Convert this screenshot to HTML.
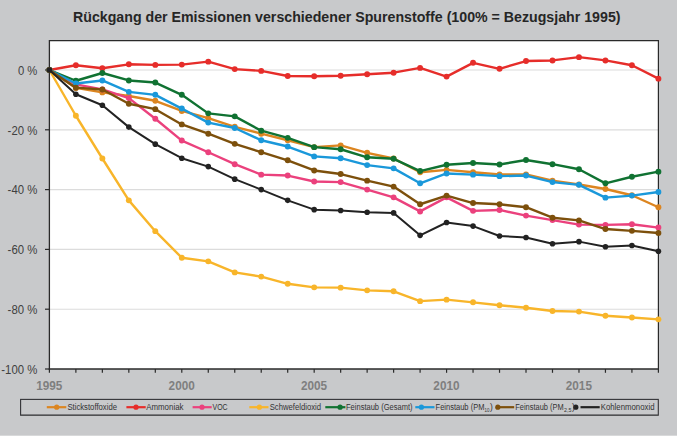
<!DOCTYPE html>
<html><head><meta charset="utf-8"><style>
html,body{margin:0;padding:0;background:#fff;width:685px;height:445px;overflow:hidden}
svg{display:block;font-family:"Liberation Sans",sans-serif}
</style></head><body>
<svg width="685" height="445" viewBox="0 0 685 445">
<rect x="0" y="0" width="677" height="435.7" fill="#C8C9CB"/>
<rect x="49.4" y="40.6" width="609.0" height="328.4" fill="#fff"/>
<line x1="49.4" y1="70.00" x2="658.4" y2="70.00" stroke="#DCDCDC" stroke-width="1.15"/>
<line x1="49.4" y1="129.80" x2="658.4" y2="129.80" stroke="#DCDCDC" stroke-width="1.15"/>
<line x1="49.4" y1="189.60" x2="658.4" y2="189.60" stroke="#DCDCDC" stroke-width="1.15"/>
<line x1="49.4" y1="249.40" x2="658.4" y2="249.40" stroke="#DCDCDC" stroke-width="1.15"/>
<line x1="49.4" y1="309.20" x2="658.4" y2="309.20" stroke="#DCDCDC" stroke-width="1.15"/>
<polyline points="49.4,40.6 658.4,40.6 658.4,369" fill="none" stroke="#2a2a2a" stroke-width="1.2"/>
<line x1="45" y1="70.00" x2="49.4" y2="70.00" stroke="#2a2a2a" stroke-width="1.2"/>
<line x1="45" y1="129.80" x2="49.4" y2="129.80" stroke="#2a2a2a" stroke-width="1.2"/>
<line x1="45" y1="189.60" x2="49.4" y2="189.60" stroke="#2a2a2a" stroke-width="1.2"/>
<line x1="45" y1="249.40" x2="49.4" y2="249.40" stroke="#2a2a2a" stroke-width="1.2"/>
<line x1="45" y1="309.20" x2="49.4" y2="309.20" stroke="#2a2a2a" stroke-width="1.2"/>
<line x1="45" y1="369.00" x2="49.4" y2="369.00" stroke="#2a2a2a" stroke-width="1.2"/>
<line x1="49.40" y1="369" x2="49.40" y2="372.8" stroke="#2a2a2a" stroke-width="1.2"/>
<line x1="75.88" y1="369" x2="75.88" y2="372.8" stroke="#2a2a2a" stroke-width="1.2"/>
<line x1="102.36" y1="369" x2="102.36" y2="372.8" stroke="#2a2a2a" stroke-width="1.2"/>
<line x1="128.83" y1="369" x2="128.83" y2="372.8" stroke="#2a2a2a" stroke-width="1.2"/>
<line x1="155.31" y1="369" x2="155.31" y2="372.8" stroke="#2a2a2a" stroke-width="1.2"/>
<line x1="181.79" y1="369" x2="181.79" y2="372.8" stroke="#2a2a2a" stroke-width="1.2"/>
<line x1="208.27" y1="369" x2="208.27" y2="372.8" stroke="#2a2a2a" stroke-width="1.2"/>
<line x1="234.75" y1="369" x2="234.75" y2="372.8" stroke="#2a2a2a" stroke-width="1.2"/>
<line x1="261.23" y1="369" x2="261.23" y2="372.8" stroke="#2a2a2a" stroke-width="1.2"/>
<line x1="287.70" y1="369" x2="287.70" y2="372.8" stroke="#2a2a2a" stroke-width="1.2"/>
<line x1="314.18" y1="369" x2="314.18" y2="372.8" stroke="#2a2a2a" stroke-width="1.2"/>
<line x1="340.66" y1="369" x2="340.66" y2="372.8" stroke="#2a2a2a" stroke-width="1.2"/>
<line x1="367.14" y1="369" x2="367.14" y2="372.8" stroke="#2a2a2a" stroke-width="1.2"/>
<line x1="393.62" y1="369" x2="393.62" y2="372.8" stroke="#2a2a2a" stroke-width="1.2"/>
<line x1="420.10" y1="369" x2="420.10" y2="372.8" stroke="#2a2a2a" stroke-width="1.2"/>
<line x1="446.57" y1="369" x2="446.57" y2="372.8" stroke="#2a2a2a" stroke-width="1.2"/>
<line x1="473.05" y1="369" x2="473.05" y2="372.8" stroke="#2a2a2a" stroke-width="1.2"/>
<line x1="499.53" y1="369" x2="499.53" y2="372.8" stroke="#2a2a2a" stroke-width="1.2"/>
<line x1="526.01" y1="369" x2="526.01" y2="372.8" stroke="#2a2a2a" stroke-width="1.2"/>
<line x1="552.49" y1="369" x2="552.49" y2="372.8" stroke="#2a2a2a" stroke-width="1.2"/>
<line x1="578.97" y1="369" x2="578.97" y2="372.8" stroke="#2a2a2a" stroke-width="1.2"/>
<line x1="605.44" y1="369" x2="605.44" y2="372.8" stroke="#2a2a2a" stroke-width="1.2"/>
<line x1="631.92" y1="369" x2="631.92" y2="372.8" stroke="#2a2a2a" stroke-width="1.2"/>
<line x1="658.40" y1="369" x2="658.40" y2="372.8" stroke="#2a2a2a" stroke-width="1.2"/>
<line x1="49.4" y1="40" x2="49.4" y2="369.8" stroke="#2a2a2a" stroke-width="1.3"/>
<line x1="48.8" y1="369" x2="658.9" y2="369" stroke="#2a2a2a" stroke-width="1.6"/>
<polyline points="49.40,70.00 75.88,87.94 102.36,92.42 128.83,96.01 155.31,100.80 181.79,110.96 208.27,118.14 234.75,126.81 261.23,133.69 287.70,140.26 314.18,147.14 340.66,145.35 367.14,152.82 393.62,158.50 420.10,172.26 446.57,169.87 473.05,172.26 499.53,174.35 526.01,174.35 552.49,180.63 578.97,184.52 605.44,189.00 631.92,195.28 658.40,207.24" fill="none" stroke="#DC8520" stroke-width="2.4" stroke-linejoin="round"/>
<circle cx="49.40" cy="70.00" r="2.95" fill="#DC8520"/>
<circle cx="75.88" cy="87.94" r="2.95" fill="#DC8520"/>
<circle cx="102.36" cy="92.42" r="2.95" fill="#DC8520"/>
<circle cx="128.83" cy="96.01" r="2.95" fill="#DC8520"/>
<circle cx="155.31" cy="100.80" r="2.95" fill="#DC8520"/>
<circle cx="181.79" cy="110.96" r="2.95" fill="#DC8520"/>
<circle cx="208.27" cy="118.14" r="2.95" fill="#DC8520"/>
<circle cx="234.75" cy="126.81" r="2.95" fill="#DC8520"/>
<circle cx="261.23" cy="133.69" r="2.95" fill="#DC8520"/>
<circle cx="287.70" cy="140.26" r="2.95" fill="#DC8520"/>
<circle cx="314.18" cy="147.14" r="2.95" fill="#DC8520"/>
<circle cx="340.66" cy="145.35" r="2.95" fill="#DC8520"/>
<circle cx="367.14" cy="152.82" r="2.95" fill="#DC8520"/>
<circle cx="393.62" cy="158.50" r="2.95" fill="#DC8520"/>
<circle cx="420.10" cy="172.26" r="2.95" fill="#DC8520"/>
<circle cx="446.57" cy="169.87" r="2.95" fill="#DC8520"/>
<circle cx="473.05" cy="172.26" r="2.95" fill="#DC8520"/>
<circle cx="499.53" cy="174.35" r="2.95" fill="#DC8520"/>
<circle cx="526.01" cy="174.35" r="2.95" fill="#DC8520"/>
<circle cx="552.49" cy="180.63" r="2.95" fill="#DC8520"/>
<circle cx="578.97" cy="184.52" r="2.95" fill="#DC8520"/>
<circle cx="605.44" cy="189.00" r="2.95" fill="#DC8520"/>
<circle cx="631.92" cy="195.28" r="2.95" fill="#DC8520"/>
<circle cx="658.40" cy="207.24" r="2.95" fill="#DC8520"/>
<polyline points="49.40,70.00 75.88,65.22 102.36,68.21 128.83,64.32 155.31,64.92 181.79,64.62 208.27,61.63 234.75,69.10 261.23,70.90 287.70,75.98 314.18,76.28 340.66,75.68 367.14,74.19 393.62,72.69 420.10,67.91 446.57,76.58 473.05,62.82 499.53,68.80 526.01,61.03 552.49,60.43 578.97,57.14 605.44,60.43 631.92,65.22 658.40,78.67" fill="none" stroke="#E62D2A" stroke-width="2.4" stroke-linejoin="round"/>
<circle cx="49.40" cy="70.00" r="2.95" fill="#E62D2A"/>
<circle cx="75.88" cy="65.22" r="2.95" fill="#E62D2A"/>
<circle cx="102.36" cy="68.21" r="2.95" fill="#E62D2A"/>
<circle cx="128.83" cy="64.32" r="2.95" fill="#E62D2A"/>
<circle cx="155.31" cy="64.92" r="2.95" fill="#E62D2A"/>
<circle cx="181.79" cy="64.62" r="2.95" fill="#E62D2A"/>
<circle cx="208.27" cy="61.63" r="2.95" fill="#E62D2A"/>
<circle cx="234.75" cy="69.10" r="2.95" fill="#E62D2A"/>
<circle cx="261.23" cy="70.90" r="2.95" fill="#E62D2A"/>
<circle cx="287.70" cy="75.98" r="2.95" fill="#E62D2A"/>
<circle cx="314.18" cy="76.28" r="2.95" fill="#E62D2A"/>
<circle cx="340.66" cy="75.68" r="2.95" fill="#E62D2A"/>
<circle cx="367.14" cy="74.19" r="2.95" fill="#E62D2A"/>
<circle cx="393.62" cy="72.69" r="2.95" fill="#E62D2A"/>
<circle cx="420.10" cy="67.91" r="2.95" fill="#E62D2A"/>
<circle cx="446.57" cy="76.58" r="2.95" fill="#E62D2A"/>
<circle cx="473.05" cy="62.82" r="2.95" fill="#E62D2A"/>
<circle cx="499.53" cy="68.80" r="2.95" fill="#E62D2A"/>
<circle cx="526.01" cy="61.03" r="2.95" fill="#E62D2A"/>
<circle cx="552.49" cy="60.43" r="2.95" fill="#E62D2A"/>
<circle cx="578.97" cy="57.14" r="2.95" fill="#E62D2A"/>
<circle cx="605.44" cy="60.43" r="2.95" fill="#E62D2A"/>
<circle cx="631.92" cy="65.22" r="2.95" fill="#E62D2A"/>
<circle cx="658.40" cy="78.67" r="2.95" fill="#E62D2A"/>
<polyline points="49.40,70.00 75.88,84.35 102.36,89.44 128.83,98.11 155.31,118.74 181.79,140.56 208.27,152.23 234.75,164.19 261.23,174.65 287.70,175.55 314.18,181.53 340.66,182.12 367.14,189.60 393.62,197.37 420.10,211.43 446.57,197.37 473.05,210.83 499.53,209.93 526.01,215.61 552.49,220.10 578.97,224.58 605.44,224.88 631.92,224.28 658.40,227.57" fill="none" stroke="#EB417D" stroke-width="2.4" stroke-linejoin="round"/>
<circle cx="49.40" cy="70.00" r="2.95" fill="#EB417D"/>
<circle cx="75.88" cy="84.35" r="2.95" fill="#EB417D"/>
<circle cx="102.36" cy="89.44" r="2.95" fill="#EB417D"/>
<circle cx="128.83" cy="98.11" r="2.95" fill="#EB417D"/>
<circle cx="155.31" cy="118.74" r="2.95" fill="#EB417D"/>
<circle cx="181.79" cy="140.56" r="2.95" fill="#EB417D"/>
<circle cx="208.27" cy="152.23" r="2.95" fill="#EB417D"/>
<circle cx="234.75" cy="164.19" r="2.95" fill="#EB417D"/>
<circle cx="261.23" cy="174.65" r="2.95" fill="#EB417D"/>
<circle cx="287.70" cy="175.55" r="2.95" fill="#EB417D"/>
<circle cx="314.18" cy="181.53" r="2.95" fill="#EB417D"/>
<circle cx="340.66" cy="182.12" r="2.95" fill="#EB417D"/>
<circle cx="367.14" cy="189.60" r="2.95" fill="#EB417D"/>
<circle cx="393.62" cy="197.37" r="2.95" fill="#EB417D"/>
<circle cx="420.10" cy="211.43" r="2.95" fill="#EB417D"/>
<circle cx="446.57" cy="197.37" r="2.95" fill="#EB417D"/>
<circle cx="473.05" cy="210.83" r="2.95" fill="#EB417D"/>
<circle cx="499.53" cy="209.93" r="2.95" fill="#EB417D"/>
<circle cx="526.01" cy="215.61" r="2.95" fill="#EB417D"/>
<circle cx="552.49" cy="220.10" r="2.95" fill="#EB417D"/>
<circle cx="578.97" cy="224.58" r="2.95" fill="#EB417D"/>
<circle cx="605.44" cy="224.88" r="2.95" fill="#EB417D"/>
<circle cx="631.92" cy="224.28" r="2.95" fill="#EB417D"/>
<circle cx="658.40" cy="227.57" r="2.95" fill="#EB417D"/>
<polyline points="49.40,70.00 75.88,115.75 102.36,158.50 128.83,200.36 155.31,231.16 181.79,257.77 208.27,261.36 234.75,272.42 261.23,276.61 287.70,283.79 314.18,287.37 340.66,287.67 367.14,290.36 393.62,291.26 420.10,301.13 446.57,299.63 473.05,302.32 499.53,305.31 526.01,307.71 552.49,310.99 578.97,311.59 605.44,315.78 631.92,317.57 658.40,319.37" fill="none" stroke="#F8B52A" stroke-width="2.4" stroke-linejoin="round"/>
<circle cx="49.40" cy="70.00" r="2.95" fill="#F8B52A"/>
<circle cx="75.88" cy="115.75" r="2.95" fill="#F8B52A"/>
<circle cx="102.36" cy="158.50" r="2.95" fill="#F8B52A"/>
<circle cx="128.83" cy="200.36" r="2.95" fill="#F8B52A"/>
<circle cx="155.31" cy="231.16" r="2.95" fill="#F8B52A"/>
<circle cx="181.79" cy="257.77" r="2.95" fill="#F8B52A"/>
<circle cx="208.27" cy="261.36" r="2.95" fill="#F8B52A"/>
<circle cx="234.75" cy="272.42" r="2.95" fill="#F8B52A"/>
<circle cx="261.23" cy="276.61" r="2.95" fill="#F8B52A"/>
<circle cx="287.70" cy="283.79" r="2.95" fill="#F8B52A"/>
<circle cx="314.18" cy="287.37" r="2.95" fill="#F8B52A"/>
<circle cx="340.66" cy="287.67" r="2.95" fill="#F8B52A"/>
<circle cx="367.14" cy="290.36" r="2.95" fill="#F8B52A"/>
<circle cx="393.62" cy="291.26" r="2.95" fill="#F8B52A"/>
<circle cx="420.10" cy="301.13" r="2.95" fill="#F8B52A"/>
<circle cx="446.57" cy="299.63" r="2.95" fill="#F8B52A"/>
<circle cx="473.05" cy="302.32" r="2.95" fill="#F8B52A"/>
<circle cx="499.53" cy="305.31" r="2.95" fill="#F8B52A"/>
<circle cx="526.01" cy="307.71" r="2.95" fill="#F8B52A"/>
<circle cx="552.49" cy="310.99" r="2.95" fill="#F8B52A"/>
<circle cx="578.97" cy="311.59" r="2.95" fill="#F8B52A"/>
<circle cx="605.44" cy="315.78" r="2.95" fill="#F8B52A"/>
<circle cx="631.92" cy="317.57" r="2.95" fill="#F8B52A"/>
<circle cx="658.40" cy="319.37" r="2.95" fill="#F8B52A"/>
<polyline points="49.40,70.00 75.88,80.76 102.36,72.99 128.83,80.47 155.31,82.56 181.79,94.82 208.27,113.36 234.75,116.34 261.23,130.70 287.70,137.87 314.18,147.14 340.66,149.24 367.14,157.31 393.62,158.80 420.10,171.06 446.57,164.78 473.05,162.99 499.53,164.48 526.01,160.00 552.49,164.19 578.97,169.27 605.44,183.32 631.92,176.74 658.40,171.66" fill="none" stroke="#107232" stroke-width="2.4" stroke-linejoin="round"/>
<circle cx="49.40" cy="70.00" r="2.95" fill="#107232"/>
<circle cx="75.88" cy="80.76" r="2.95" fill="#107232"/>
<circle cx="102.36" cy="72.99" r="2.95" fill="#107232"/>
<circle cx="128.83" cy="80.47" r="2.95" fill="#107232"/>
<circle cx="155.31" cy="82.56" r="2.95" fill="#107232"/>
<circle cx="181.79" cy="94.82" r="2.95" fill="#107232"/>
<circle cx="208.27" cy="113.36" r="2.95" fill="#107232"/>
<circle cx="234.75" cy="116.34" r="2.95" fill="#107232"/>
<circle cx="261.23" cy="130.70" r="2.95" fill="#107232"/>
<circle cx="287.70" cy="137.87" r="2.95" fill="#107232"/>
<circle cx="314.18" cy="147.14" r="2.95" fill="#107232"/>
<circle cx="340.66" cy="149.24" r="2.95" fill="#107232"/>
<circle cx="367.14" cy="157.31" r="2.95" fill="#107232"/>
<circle cx="393.62" cy="158.80" r="2.95" fill="#107232"/>
<circle cx="420.10" cy="171.06" r="2.95" fill="#107232"/>
<circle cx="446.57" cy="164.78" r="2.95" fill="#107232"/>
<circle cx="473.05" cy="162.99" r="2.95" fill="#107232"/>
<circle cx="499.53" cy="164.48" r="2.95" fill="#107232"/>
<circle cx="526.01" cy="160.00" r="2.95" fill="#107232"/>
<circle cx="552.49" cy="164.19" r="2.95" fill="#107232"/>
<circle cx="578.97" cy="169.27" r="2.95" fill="#107232"/>
<circle cx="605.44" cy="183.32" r="2.95" fill="#107232"/>
<circle cx="631.92" cy="176.74" r="2.95" fill="#107232"/>
<circle cx="658.40" cy="171.66" r="2.95" fill="#107232"/>
<polyline points="49.40,70.00 75.88,83.45 102.36,80.47 128.83,91.83 155.31,94.82 181.79,108.57 208.27,122.62 234.75,128.01 261.23,140.26 287.70,146.54 314.18,156.41 340.66,158.21 367.14,165.08 393.62,168.37 420.10,183.32 446.57,173.45 473.05,174.65 499.53,176.15 526.01,175.55 552.49,182.12 578.97,184.82 605.44,197.67 631.92,195.58 658.40,191.99" fill="none" stroke="#1A98DA" stroke-width="2.4" stroke-linejoin="round"/>
<circle cx="49.40" cy="70.00" r="2.95" fill="#1A98DA"/>
<circle cx="75.88" cy="83.45" r="2.95" fill="#1A98DA"/>
<circle cx="102.36" cy="80.47" r="2.95" fill="#1A98DA"/>
<circle cx="128.83" cy="91.83" r="2.95" fill="#1A98DA"/>
<circle cx="155.31" cy="94.82" r="2.95" fill="#1A98DA"/>
<circle cx="181.79" cy="108.57" r="2.95" fill="#1A98DA"/>
<circle cx="208.27" cy="122.62" r="2.95" fill="#1A98DA"/>
<circle cx="234.75" cy="128.01" r="2.95" fill="#1A98DA"/>
<circle cx="261.23" cy="140.26" r="2.95" fill="#1A98DA"/>
<circle cx="287.70" cy="146.54" r="2.95" fill="#1A98DA"/>
<circle cx="314.18" cy="156.41" r="2.95" fill="#1A98DA"/>
<circle cx="340.66" cy="158.21" r="2.95" fill="#1A98DA"/>
<circle cx="367.14" cy="165.08" r="2.95" fill="#1A98DA"/>
<circle cx="393.62" cy="168.37" r="2.95" fill="#1A98DA"/>
<circle cx="420.10" cy="183.32" r="2.95" fill="#1A98DA"/>
<circle cx="446.57" cy="173.45" r="2.95" fill="#1A98DA"/>
<circle cx="473.05" cy="174.65" r="2.95" fill="#1A98DA"/>
<circle cx="499.53" cy="176.15" r="2.95" fill="#1A98DA"/>
<circle cx="526.01" cy="175.55" r="2.95" fill="#1A98DA"/>
<circle cx="552.49" cy="182.12" r="2.95" fill="#1A98DA"/>
<circle cx="578.97" cy="184.82" r="2.95" fill="#1A98DA"/>
<circle cx="605.44" cy="197.67" r="2.95" fill="#1A98DA"/>
<circle cx="631.92" cy="195.58" r="2.95" fill="#1A98DA"/>
<circle cx="658.40" cy="191.99" r="2.95" fill="#1A98DA"/>
<polyline points="49.40,70.00 75.88,87.64 102.36,89.44 128.83,103.79 155.31,109.17 181.79,124.42 208.27,133.69 234.75,143.85 261.23,152.23 287.70,160.30 314.18,170.46 340.66,174.05 367.14,180.63 393.62,186.61 420.10,204.25 446.57,195.58 473.05,203.06 499.53,204.25 526.01,207.24 552.49,217.71 578.97,220.40 605.44,229.07 631.92,230.86 658.40,232.96" fill="none" stroke="#7D500C" stroke-width="2.4" stroke-linejoin="round"/>
<circle cx="49.40" cy="70.00" r="2.95" fill="#7D500C"/>
<circle cx="75.88" cy="87.64" r="2.95" fill="#7D500C"/>
<circle cx="102.36" cy="89.44" r="2.95" fill="#7D500C"/>
<circle cx="128.83" cy="103.79" r="2.95" fill="#7D500C"/>
<circle cx="155.31" cy="109.17" r="2.95" fill="#7D500C"/>
<circle cx="181.79" cy="124.42" r="2.95" fill="#7D500C"/>
<circle cx="208.27" cy="133.69" r="2.95" fill="#7D500C"/>
<circle cx="234.75" cy="143.85" r="2.95" fill="#7D500C"/>
<circle cx="261.23" cy="152.23" r="2.95" fill="#7D500C"/>
<circle cx="287.70" cy="160.30" r="2.95" fill="#7D500C"/>
<circle cx="314.18" cy="170.46" r="2.95" fill="#7D500C"/>
<circle cx="340.66" cy="174.05" r="2.95" fill="#7D500C"/>
<circle cx="367.14" cy="180.63" r="2.95" fill="#7D500C"/>
<circle cx="393.62" cy="186.61" r="2.95" fill="#7D500C"/>
<circle cx="420.10" cy="204.25" r="2.95" fill="#7D500C"/>
<circle cx="446.57" cy="195.58" r="2.95" fill="#7D500C"/>
<circle cx="473.05" cy="203.06" r="2.95" fill="#7D500C"/>
<circle cx="499.53" cy="204.25" r="2.95" fill="#7D500C"/>
<circle cx="526.01" cy="207.24" r="2.95" fill="#7D500C"/>
<circle cx="552.49" cy="217.71" r="2.95" fill="#7D500C"/>
<circle cx="578.97" cy="220.40" r="2.95" fill="#7D500C"/>
<circle cx="605.44" cy="229.07" r="2.95" fill="#7D500C"/>
<circle cx="631.92" cy="230.86" r="2.95" fill="#7D500C"/>
<circle cx="658.40" cy="232.96" r="2.95" fill="#7D500C"/>
<polyline points="49.40,70.00 75.88,94.22 102.36,105.28 128.83,127.11 155.31,144.15 181.79,158.21 208.27,166.58 234.75,179.13 261.23,189.60 287.70,200.36 314.18,209.63 340.66,210.53 367.14,212.32 393.62,212.92 420.10,235.35 446.57,222.49 473.05,226.08 499.53,235.95 526.01,237.44 552.49,243.72 578.97,241.63 605.44,246.71 631.92,245.51 658.40,251.19" fill="none" stroke="#222222" stroke-width="2.0" stroke-linejoin="round"/>
<circle cx="49.40" cy="70.00" r="2.8" fill="#222222"/>
<circle cx="75.88" cy="94.22" r="2.8" fill="#222222"/>
<circle cx="102.36" cy="105.28" r="2.8" fill="#222222"/>
<circle cx="128.83" cy="127.11" r="2.8" fill="#222222"/>
<circle cx="155.31" cy="144.15" r="2.8" fill="#222222"/>
<circle cx="181.79" cy="158.21" r="2.8" fill="#222222"/>
<circle cx="208.27" cy="166.58" r="2.8" fill="#222222"/>
<circle cx="234.75" cy="179.13" r="2.8" fill="#222222"/>
<circle cx="261.23" cy="189.60" r="2.8" fill="#222222"/>
<circle cx="287.70" cy="200.36" r="2.8" fill="#222222"/>
<circle cx="314.18" cy="209.63" r="2.8" fill="#222222"/>
<circle cx="340.66" cy="210.53" r="2.8" fill="#222222"/>
<circle cx="367.14" cy="212.32" r="2.8" fill="#222222"/>
<circle cx="393.62" cy="212.92" r="2.8" fill="#222222"/>
<circle cx="420.10" cy="235.35" r="2.8" fill="#222222"/>
<circle cx="446.57" cy="222.49" r="2.8" fill="#222222"/>
<circle cx="473.05" cy="226.08" r="2.8" fill="#222222"/>
<circle cx="499.53" cy="235.95" r="2.8" fill="#222222"/>
<circle cx="526.01" cy="237.44" r="2.8" fill="#222222"/>
<circle cx="552.49" cy="243.72" r="2.8" fill="#222222"/>
<circle cx="578.97" cy="241.63" r="2.8" fill="#222222"/>
<circle cx="605.44" cy="246.71" r="2.8" fill="#222222"/>
<circle cx="631.92" cy="245.51" r="2.8" fill="#222222"/>
<circle cx="658.40" cy="251.19" r="2.8" fill="#222222"/>
<text x="17.90" y="74.80" font-size="12" fill="#404040" textLength="19.40" lengthAdjust="spacingAndGlyphs">0 %</text>
<text x="7.60" y="134.60" font-size="12" fill="#404040" textLength="29.70" lengthAdjust="spacingAndGlyphs">-20 %</text>
<text x="7.60" y="194.40" font-size="12" fill="#404040" textLength="29.70" lengthAdjust="spacingAndGlyphs">-40 %</text>
<text x="7.60" y="254.20" font-size="12" fill="#404040" textLength="29.70" lengthAdjust="spacingAndGlyphs">-60 %</text>
<text x="7.60" y="314.00" font-size="12" fill="#404040" textLength="29.70" lengthAdjust="spacingAndGlyphs">-80 %</text>
<text x="1.30" y="373.80" font-size="12" fill="#404040" textLength="36.00" lengthAdjust="spacingAndGlyphs">-100 %</text>
<text x="36.20" y="389.9" font-size="12.2" font-weight="bold" fill="#7F7F7F" textLength="26.2" lengthAdjust="spacingAndGlyphs">1995</text>
<text x="168.59" y="389.9" font-size="12.2" font-weight="bold" fill="#7F7F7F" textLength="26.2" lengthAdjust="spacingAndGlyphs">2000</text>
<text x="300.98" y="389.9" font-size="12.2" font-weight="bold" fill="#7F7F7F" textLength="26.2" lengthAdjust="spacingAndGlyphs">2005</text>
<text x="433.37" y="389.9" font-size="12.2" font-weight="bold" fill="#7F7F7F" textLength="26.2" lengthAdjust="spacingAndGlyphs">2010</text>
<text x="565.77" y="389.9" font-size="12.2" font-weight="bold" fill="#7F7F7F" textLength="26.2" lengthAdjust="spacingAndGlyphs">2015</text>
<text x="73" y="21.7" font-size="14.2" textLength="547.5" lengthAdjust="spacingAndGlyphs" font-weight="bold" fill="#262626">Rückgang der Emissionen verschiedener Spurenstoffe (100% = Bezugsjahr 1995)</text>
<rect x="20.6" y="399.4" width="637.6999999999999" height="15.800000000000011" fill="none" stroke="#333337" stroke-width="1.1"/>
<line x1="20.6" y1="415" x2="658.3" y2="415" stroke="#444" stroke-width="1.0" opacity="0.6"/>
<line x1="46.8" y1="407.2" x2="66.3" y2="407.2" stroke="#DC8520" stroke-width="2.2"/>
<circle cx="56.7" cy="407.2" r="2.6" fill="#DC8520"/>
<text x="67.4" y="410.2" font-size="8.4" fill="#333" textLength="49.599999999999994" lengthAdjust="spacingAndGlyphs">Stickstoffoxide</text>
<line x1="126.4" y1="407.2" x2="145.7" y2="407.2" stroke="#E62D2A" stroke-width="2.2"/>
<circle cx="136.0" cy="407.2" r="2.6" fill="#E62D2A"/>
<text x="146.2" y="410.2" font-size="8.4" fill="#333" textLength="37.3" lengthAdjust="spacingAndGlyphs">Ammoniak</text>
<line x1="192.6" y1="407.2" x2="211.7" y2="407.2" stroke="#EB417D" stroke-width="2.2"/>
<circle cx="202.0" cy="407.2" r="2.6" fill="#EB417D"/>
<text x="212.5" y="410.2" font-size="8.4" fill="#333" textLength="15.100000000000001" lengthAdjust="spacingAndGlyphs">VOC</text>
<line x1="249.3" y1="407.2" x2="268.5" y2="407.2" stroke="#F8B52A" stroke-width="2.2"/>
<circle cx="259.4" cy="407.2" r="2.6" fill="#F8B52A"/>
<text x="269.7" y="410.2" font-size="8.4" fill="#333" textLength="51.4" lengthAdjust="spacingAndGlyphs">Schwefeldioxid</text>
<line x1="325.3" y1="407.2" x2="345.4" y2="407.2" stroke="#107232" stroke-width="2.2"/>
<circle cx="340.1" cy="407.2" r="2.6" fill="#107232"/>
<text x="346.0" y="410.2" font-size="8.4" fill="#333" textLength="66.5" lengthAdjust="spacingAndGlyphs">Feinstaub (Gesamt)</text>
<line x1="415.3" y1="407.2" x2="434.5" y2="407.2" stroke="#1A98DA" stroke-width="2.2"/>
<circle cx="421.4" cy="407.2" r="2.6" fill="#1A98DA"/>
<line x1="497.0" y1="407.2" x2="514.2" y2="407.2" stroke="#7D500C" stroke-width="2.2"/>
<circle cx="497.8" cy="407.2" r="2.6" fill="#7D500C"/>
<line x1="580.5" y1="407.2" x2="599.7" y2="407.2" stroke="#222222" stroke-width="2.2"/>
<circle cx="575.8" cy="407.2" r="2.6" fill="#222222"/>
<text x="600.7" y="410.2" font-size="8.4" fill="#333" textLength="53.8" lengthAdjust="spacingAndGlyphs">Kohlenmonoxid</text>
<text x="435.6" y="410.2" font-size="8.4" fill="#333" textLength="48.8" lengthAdjust="spacingAndGlyphs">Feinstaub (PM</text>
<text x="484.6" y="412.2" font-size="5.0" fill="#333" textLength="4.9" lengthAdjust="spacingAndGlyphs">10</text>
<text x="490.0" y="410.2" font-size="8.4" fill="#333">)</text>
<text x="515.3" y="410.2" font-size="8.4" fill="#333" textLength="48.3" lengthAdjust="spacingAndGlyphs">Feinstaub (PM</text>
<text x="564.0" y="412.2" font-size="5.0" fill="#333" textLength="7.4" lengthAdjust="spacingAndGlyphs">2,5</text>
<text x="571.9" y="410.2" font-size="8.4" fill="#333">)</text>
</svg>
</body></html>
